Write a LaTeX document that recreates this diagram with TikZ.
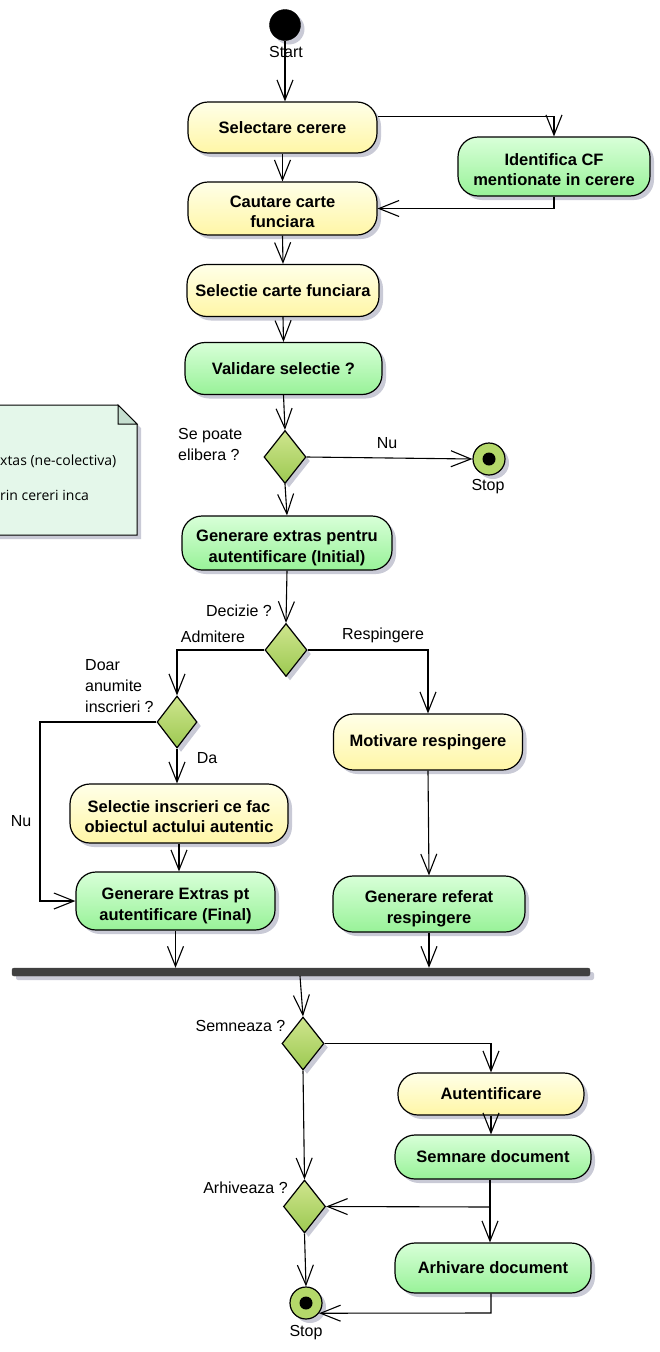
\documentclass[tikz,border=0pt]{standalone}
\usepackage{fontspec}
\setmainfont{Liberation Sans}
\newfontfamily\notefont{Open Sans}
\usetikzlibrary{arrows.meta,shapes.geometric,shadows,calc}
\definecolor{yTop}{HTML}{FFFFE8}
\definecolor{yBot}{HTML}{FFF6A6}
\definecolor{gTop}{HTML}{D8FFD8}
\definecolor{gBot}{HTML}{98F298}
\definecolor{dTop}{HTML}{CFE58E}
\definecolor{dBot}{HTML}{9CC951}
\definecolor{shd}{HTML}{C9CAD6}
\definecolor{barc}{HTML}{404040}
\definecolor{noteFill}{HTML}{E4F7EA}
\definecolor{noteFold}{HTML}{C5DECF}
\definecolor{stopc}{HTML}{B4D86A}
\newcommand\twol[1]{\raisebox{-5pt}[\height][\depth]{\begin{tabular}{@{}c@{}}#1\end{tabular}}}
\tikzset{
 shd/.style={drop shadow={shadow xshift=4pt,shadow yshift=-4pt,fill=shd,opacity=1}},
 act/.style={draw=black,line width=1.2pt,rounded corners=20pt,inner sep=0pt,align=center,
   font=\fontsize{16.5}{20.5}\selectfont\bfseries,shd},
 yact/.style={act,top color=yTop,bottom color=yBot},
 gact/.style={act,top color=gTop,bottom color=gBot},
 dec/.style={diamond,draw=black,line width=1.2pt,inner sep=0pt,minimum width=42pt,minimum height=53pt,
   top color=dTop,bottom color=dBot,shd},
 stopnode/.style={circle,draw=black,line width=1.2pt,fill=stopc,minimum size=32pt,inner sep=0pt,shd,
   path picture={\fill[black] (path picture bounding box.center) circle (6.5pt);}},
 lbl/.style={font=\fontsize{16}{21}\selectfont,inner sep=0pt},
 conn/.style={line width=1.1pt},
 arr/.style={line width=1.1pt,-{Straight Barb[length=20pt,width=16pt,line width=1.1pt]}},
}
\begin{document}
\begin{tikzpicture}[x=1pt,y=-1pt]
\useasboundingbox (0,0) rectangle (659,1352);
\clip (0,0) rectangle (659,1352);
% note
\path[shd,fill=noteFill,draw=black,line width=1pt] (-10,405) -- (118,405) -- (137,424) -- (137,535) -- (-10,535) -- cycle;
\draw[fill=noteFold,line width=1pt] (118,405) -- (118,424) -- (137,424) -- cycle;
\node[anchor=west,inner sep=0pt,font=\notefont\fontsize{14}{17}\selectfont] (n1) at (0,461) {xtas (ne-colectiva)};
\node[anchor=west,inner sep=0pt,font=\notefont\fontsize{14}{17}\selectfont] (n2) at (0,495) {rin cereri inca};

% nodes
\node[circle,fill=black,draw=black,minimum size=31pt,inner sep=0pt,shd] (start) at (285,25) {};
\node[lbl] (startl) at (286,52) {Start};
\node[yact,minimum width=189pt,minimum height=51pt] (sel) at (282.5,127.5) {Selectare cerere};
\node[gact,minimum width=192pt,minimum height=59pt] (ident) at (554,166.5) {\twol{Identifica CF\\mentionate in cerere}};
\node[yact,minimum width=189pt,minimum height=53pt] (caut) at (282.5,208.5) {\twol{Cautare carte\\funciara}};
\node[yact,minimum width=192pt,minimum height=52pt] (selcf) at (283,290.5) {Selectie carte funciara};
\node[gact,minimum width=197pt,minimum height=52pt] (valid) at (283.5,368.5) {Validare selectie ?};
\node[dec] (d1) at (285,457) {};
\node[lbl,anchor=west,align=left] (d1l) at (178,444) {Se poate\\elibera ?};
\node[stopnode] (stop1) at (489,459) {};
\node[lbl] (stop1l) at (488,487) {Stop};
\node[lbl] (nu1) at (387,443) {Nu};
\node[gact,minimum width=210pt,minimum height=54pt] (genI) at (287,543) {\twol{Generare extras pentru\\autentificare (Initial)}};
\node[dec] (d2) at (286,650) {};
\node[lbl] (d2l) at (239,611) {Decizie ?};
\node[lbl] (adm) at (213,637) {Admitere};
\node[lbl] (resp) at (383,635) {Respingere};
\node[dec,minimum width=40pt,minimum height=52pt] (d3) at (177,722) {};
\node[lbl,anchor=west,align=left] (d3l) at (85,686) {Doar\\anumite\\inscrieri ?};
\node[lbl] (da) at (207,758) {Da};
\node[lbl] (nu2) at (21,821) {Nu};
\node[yact,minimum width=189pt,minimum height=56pt] (motiv) at (428,742) {Motivare respingere};
\node[yact,minimum width=218pt,minimum height=59pt] (selins) at (179,813.5) {\twol{Selectie inscrieri ce fac\\obiectul actului autentic}};
\node[gact,minimum width=199pt,minimum height=58pt] (final) at (175.5,901) {\twol{Generare Extras pt\\autentificare (Final)}};
\node[gact,minimum width=192pt,minimum height=56pt] (referat) at (429,904) {\twol{Generare referat\\respingere}};
\node[draw=barc,fill=barc,rounded corners=2pt,minimum width=578pt,minimum height=8pt,inner sep=0pt,shd] (bar) at (301,972) {};
\node[dec] (d4) at (303,1043.5) {};
\node[lbl] (d4l) at (240.5,1026) {Semneaza ?};
\node[yact,minimum width=186pt,minimum height=42pt] (autent) at (491,1094) {Autentificare};
\node[gact,minimum width=196pt,minimum height=44pt] (semn) at (493,1157) {Semnare document};
\node[dec] (d5) at (304.5,1206.5) {};
\node[lbl] (d5l) at (245.5,1188) {Arhiveaza ?};
\node[gact,minimum width=196pt,minimum height=50pt] (arhiv) at (493,1268) {Arhivare document};
\node[stopnode] (stop2) at (306,1303) {};
\node[lbl] (stop2l) at (306,1333) {Stop};

% connectors
\draw[arr] (start.south) -- (start.south |- sel.north);
\draw[arr] ([yshift=11pt]sel.east) -| (ident.north);
\draw[arr] (ident.south) |- (caut.east);
\draw[arr] (sel.south) -- (caut.north);
\draw[arr] (caut.south) -- (selcf.north);
\draw[arr] (selcf.south) -- (valid.north);
\draw[arr] (valid.south) -- (d1.north);
\draw[arr] (d1.east) -- (stop1.west);
\draw[arr] (d1.south) -- (genI.north);
\draw[arr] (genI.south) -- (d2.north);
\draw[arr] (d2.west) -| (d3.north);
\draw[arr] (d2.east) -| (motiv.north);
\coordinate (nuc) at (40,722);
\draw[arr] (d3.west) -- (nuc) |- (final.west);
\draw[arr] (d3.south) -- (d3.south |- selins.north);
\draw[arr] (selins.south) -- (selins.south |- final.north);
\draw[arr] (motiv.south) -- (referat.north);
\draw[arr] (final.south) -- (final.south |- bar.north);
\draw[arr] (referat.south) -- (referat.south |- bar.north);
\coordinate (barout) at (300,976);
\draw[arr] (barout) -- (d4.north);
\draw[arr] (d4.east) -| (autent.north);
\draw[arr] (autent.south) -- (autent.south |- semn.north);
\coordinate (j) at (490,1207);
\draw[conn] (semn.south -| j) -- (j);
\draw[arr] (j) -- (d5.east);
\draw[arr] (j) -- (j |- arhiv.north);
\draw[arr] (d4.south) -- (d5.north);
\draw[arr] (d5.south) -- (stop2.north);
\coordinate (ac) at (491,1313);
\draw[arr] (arhiv.south -| ac) -- (ac) -- (stop2.-38);
\end{tikzpicture}
\end{document}
